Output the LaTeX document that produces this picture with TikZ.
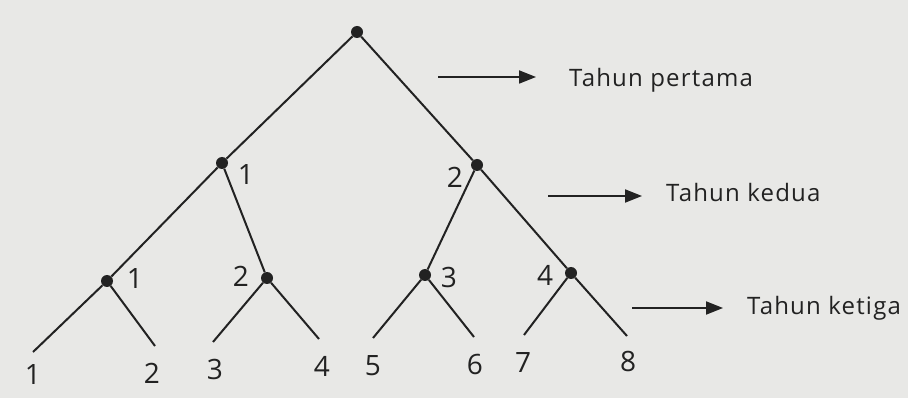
\documentclass[tikz,border=0pt]{standalone}
\usepackage{fontspec}
\setmainfont{Open Sans}
\usetikzlibrary{arrows.meta}
\definecolor{bg}{RGB}{232,232,230}
\definecolor{ink}{RGB}{34,34,34}
\tikzset{
  dot/.style={circle,fill=ink,inner sep=0pt,minimum size=12pt},
  branch/.style={draw=ink,line width=2pt},
  num/.style={inner sep=0pt,text=ink,font=\fontsize{28}{30}\selectfont},
  yeararrow/.style={draw=ink,line width=1.8pt,-{Triangle[length=17pt,width=13pt]}},
  yeartext/.style={inner sep=0pt,anchor=base west,text=ink,font=\fontsize{24}{26}\selectfont\addfontfeature{LetterSpace=5}},
}
\begin{document}
\begin{tikzpicture}[x=1pt,y=-1pt]
\fill[bg] (0,0) rectangle (908,398);
\useasboundingbox (0,0) rectangle (908,398);
% internal nodes
\node[dot] (r) at (357,32) {};
\node[dot] (a1) at (222,163) {};
\node[dot] (a2) at (477,165) {};
\node[dot] (b1) at (107,281) {};
\node[dot] (b2) at (267,278) {};
\node[dot] (b3) at (425,275) {};
\node[dot] (b4) at (571,273) {};
% leaf ends
\coordinate (l1) at (33,352);
\coordinate (l2) at (155,346);
\coordinate (l3) at (213,342);
\coordinate (l4) at (319,339);
\coordinate (l5) at (373,338);
\coordinate (l6) at (474,337);
\coordinate (l7) at (524,335);
\coordinate (l8) at (627,336);
% branches
\draw[branch] (r) -- (a1);
\draw[branch] (r) -- (a2);
\draw[branch] (a1) -- (b1);
\draw[branch] (a1) -- (b2);
\draw[branch] (a2) -- (b3);
\draw[branch] (a2) -- (b4);
\draw[branch] (b1) -- (l1);
\draw[branch] (b1) -- (l2);
\draw[branch] (b2) -- (l3);
\draw[branch] (b2) -- (l4);
\draw[branch] (b3) -- (l5);
\draw[branch] (b3) -- (l6);
\draw[branch] (b4) -- (l7);
\draw[branch] (b4) -- (l8);
% node labels
\node[num] (ta1) at (246,175) {1};
\node[num] (ta2) at (455,177) {2};
\node[num] (tb1) at (135,279) {1};
\node[num] (tb2) at (241,276) {2};
\node[num] (tb3) at (449,277) {3};
\node[num] (tb4) at (545,275) {4};
% leaf labels
\node[num] (n1) at (33,375) {1};
\node[num] (n2) at (152,373) {2};
\node[num] (n3) at (215,369) {3};
\node[num] (n4) at (322,366) {4};
\node[num] (n5) at (373,366) {5};
\node[num] (n6) at (475,364) {6};
\node[num] (n7) at (523,363) {7};
\node[num] (n8) at (628,361) {8};
% year arrows
\coordinate (s1) at (438,77);
\coordinate (s2) at (548,196);
\coordinate (s3) at (632,308);
\node[yeartext] (y1) at (569,87) {Tahun pertama};
\node[yeartext] (y2) at (666,202) {Tahun kedua};
\node[yeartext] (y3) at (747,314) {Tahun ketiga};
\draw[yeararrow] (s1) -- ([xshift=-33pt]y1.base west |- s1);
\draw[yeararrow] (s2) -- ([xshift=-24pt]y2.base west |- s2);
\draw[yeararrow] (s3) -- ([xshift=-24pt]y3.base west |- s3);
\end{tikzpicture}
\end{document}
